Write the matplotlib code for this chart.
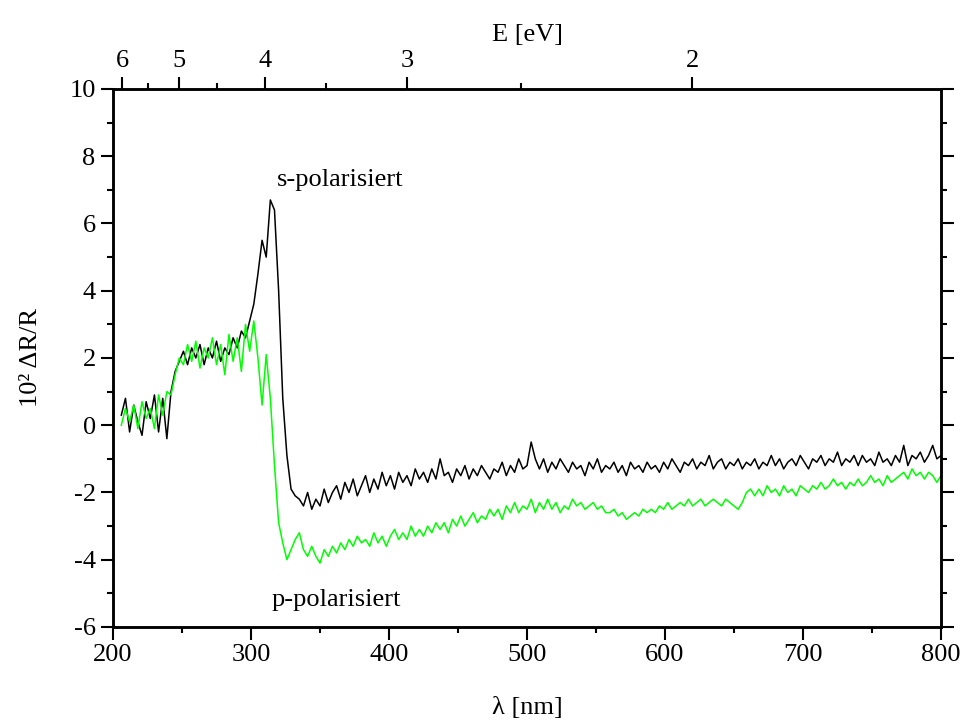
import numpy as np
import matplotlib
matplotlib.use("Agg")
import matplotlib.pyplot as plt

plt.rcParams['font.family'] = ['Liberation Serif', 'DejaVu Serif']
plt.rcParams['axes.unicode_minus'] = False

# wavelength grid [nm]
wavelength = np.arange(206, 801, 3)

# s-polarised signal (black), 10^2 dR/R
s_pol = [
    0.3, 0.8, -0.2, 0.6, 0.1, -0.3, 0.7, 0.2, 0.9, -0.2,
    0.8, -0.4, 1.0, 1.6, 1.9, 2.2, 1.8, 2.3, 2.0, 2.4,
    1.8, 2.3, 2.0, 2.5, 1.9, 2.3, 2.1, 2.6, 2.3, 2.8,
    2.6, 3.1, 3.6, 4.5, 5.5, 5.0, 6.7, 6.4, 4.0, 0.8,
    -0.9, -1.9, -2.1, -2.2, -2.4, -2.0, -2.5, -2.2, -2.4, -1.9,
    -2.3, -2.0, -1.8, -2.2, -1.7, -2.0, -1.6, -2.1, -1.8, -1.5,
    -2.0, -1.6, -1.9, -1.4, -1.8, -1.5, -1.9, -1.4, -1.7, -1.5,
    -1.8, -1.3, -1.6, -1.4, -1.7, -1.3, -1.6, -1.0, -1.5, -1.4,
    -1.7, -1.3, -1.5, -1.2, -1.6, -1.3, -1.5, -1.2, -1.4, -1.6,
    -1.3, -1.4, -1.1, -1.5, -1.2, -1.4, -1.0, -1.3, -1.2, -0.5,
    -1.0, -1.3, -1.0, -1.4, -1.1, -1.3, -1.0, -1.2, -1.4, -1.1,
    -1.3, -1.2, -1.5, -1.1, -1.3, -1.0, -1.4, -1.2, -1.3, -1.1,
    -1.4, -1.2, -1.5, -1.1, -1.3, -1.2, -1.4, -1.1, -1.3, -1.2,
    -1.4, -1.1, -1.3, -1.0, -1.2, -1.4, -1.1, -1.2, -1.0, -1.3,
    -1.1, -1.2, -0.9, -1.3, -1.1, -1.0, -1.3, -1.1, -1.2, -1.0,
    -1.3, -1.1, -1.2, -1.0, -1.3, -1.1, -1.2, -0.9, -1.2, -1.0,
    -1.3, -1.1, -1.0, -1.2, -0.9, -1.1, -1.3, -1.0, -1.1, -0.9,
    -1.2, -1.0, -1.1, -0.8, -1.2, -1.0, -1.1, -0.9, -1.2, -0.9,
    -1.1, -1.0, -1.2, -0.8, -1.1, -1.0, -1.2, -0.9, -1.1, -0.6,
    -1.2, -0.9, -1.0, -0.8, -1.1, -0.9, -0.6, -1.0, -0.9,
]

# p-polarised signal (green), 10^2 dR/R
p_pol = [
    0.0, 0.5, 0.1, 0.6, -0.1, 0.7, 0.2, 0.5, -0.1, 0.9,
    0.3, 1.0, 0.9, 1.5, 2.0, 1.8, 2.4, 1.9, 2.5, 1.7,
    2.3, 2.0, 2.6, 1.8, 2.4, 1.5, 2.7, 1.9, 2.6, 1.6,
    3.0, 2.2, 3.1, 2.0, 0.6, 2.1, 0.8, -1.2, -2.9, -3.5,
    -4.0, -3.7, -3.4, -3.2, -3.7, -3.9, -3.6, -3.9, -4.1, -3.7,
    -3.9, -3.6, -3.8, -3.5, -3.7, -3.4, -3.6, -3.3, -3.5, -3.4,
    -3.6, -3.2, -3.5, -3.3, -3.6, -3.3, -3.1, -3.4, -3.2, -3.4,
    -3.0, -3.3, -3.1, -3.3, -3.0, -3.2, -2.9, -3.1, -2.9, -3.2,
    -2.8, -3.0, -2.7, -3.0, -2.8, -2.6, -2.9, -2.7, -2.8, -2.5,
    -2.7, -2.5, -2.8, -2.4, -2.6, -2.3, -2.6, -2.4, -2.5, -2.2,
    -2.6, -2.3, -2.5, -2.2, -2.5, -2.3, -2.6, -2.4, -2.5, -2.2,
    -2.4, -2.3, -2.5, -2.4, -2.3, -2.5, -2.4, -2.6, -2.6, -2.5,
    -2.7, -2.6, -2.8, -2.7, -2.6, -2.7, -2.5, -2.6, -2.5, -2.6,
    -2.4, -2.5, -2.3, -2.5, -2.4, -2.3, -2.4, -2.2, -2.4, -2.3,
    -2.2, -2.4, -2.3, -2.2, -2.3, -2.4, -2.2, -2.3, -2.4, -2.5,
    -2.3, -2.0, -1.9, -2.1, -1.9, -2.1, -1.8, -2.0, -1.9, -2.1,
    -1.8, -2.0, -1.9, -2.1, -1.8, -1.9, -2.0, -1.8, -1.9, -1.7,
    -1.9, -1.8, -1.6, -1.8, -1.7, -1.9, -1.7, -1.8, -1.6, -1.8,
    -1.7, -1.5, -1.7, -1.6, -1.8, -1.5, -1.7, -1.6, -1.5, -1.4,
    -1.6, -1.3, -1.5, -1.4, -1.6, -1.4, -1.5, -1.7, -1.5,
]

# photon energy axis on top
energy_major = [6, 5, 4, 3, 2]
energy_minor = [5.5, 4.5, 3.5, 2.5]
hc = 1239.84  # eV nm

fig = plt.figure(figsize=(9.67, 7.27), dpi=100)
ax = fig.add_axes([0.1169, 0.1376, 0.8562, 0.74])

ax.plot(wavelength, s_pol, color='black', lw=1.1)
ax.plot(wavelength, p_pol, color='#00ff00', lw=1.1)

ax.set_xlim(200, 800)
ax.set_ylim(-6, 10)
ax.set_xticks(np.arange(200, 801, 100))
ax.set_xticks(np.arange(250, 800, 100), minor=True)
ax.set_yticks(np.arange(-6, 11, 2))
ax.set_yticks(np.arange(-5, 10, 2), minor=True)
ax.tick_params(which='both', direction='out', width=1.5, labelsize=19,
               right=True, top=False)
ax.tick_params(which='major', length=9)
ax.tick_params(which='minor', length=4.5)
ax.tick_params(axis='y', labelright=False)
for sp in ax.spines.values():
    sp.set_linewidth(1.8)

ax.set_xlabel('λ [nm]', fontsize=19, labelpad=22)
ax.set_ylabel('10² ΔR/R', fontsize=19, labelpad=20)

ax.text(319, 7.3, 's-polarisiert', fontsize=19, va='center', ha='left')
ax.text(315, -5.2, 'p-polarisiert', fontsize=19, va='center', ha='left')

top = ax.twiny()
top.set_xlim(ax.get_xlim())
top.set_xticks([hc / e for e in energy_major])
top.set_xticklabels([str(e) for e in energy_major])
top.set_xticks([hc / e for e in energy_minor], minor=True)
top.tick_params(which='both', direction='out', width=1.5, labelsize=19)
top.tick_params(which='major', length=9)
top.tick_params(which='minor', length=4.5)
top.set_xlabel('E [eV]', fontsize=19, labelpad=6)
for sp in top.spines.values():
    sp.set_linewidth(1.8)

fig.savefig('out.png', dpi=100)
